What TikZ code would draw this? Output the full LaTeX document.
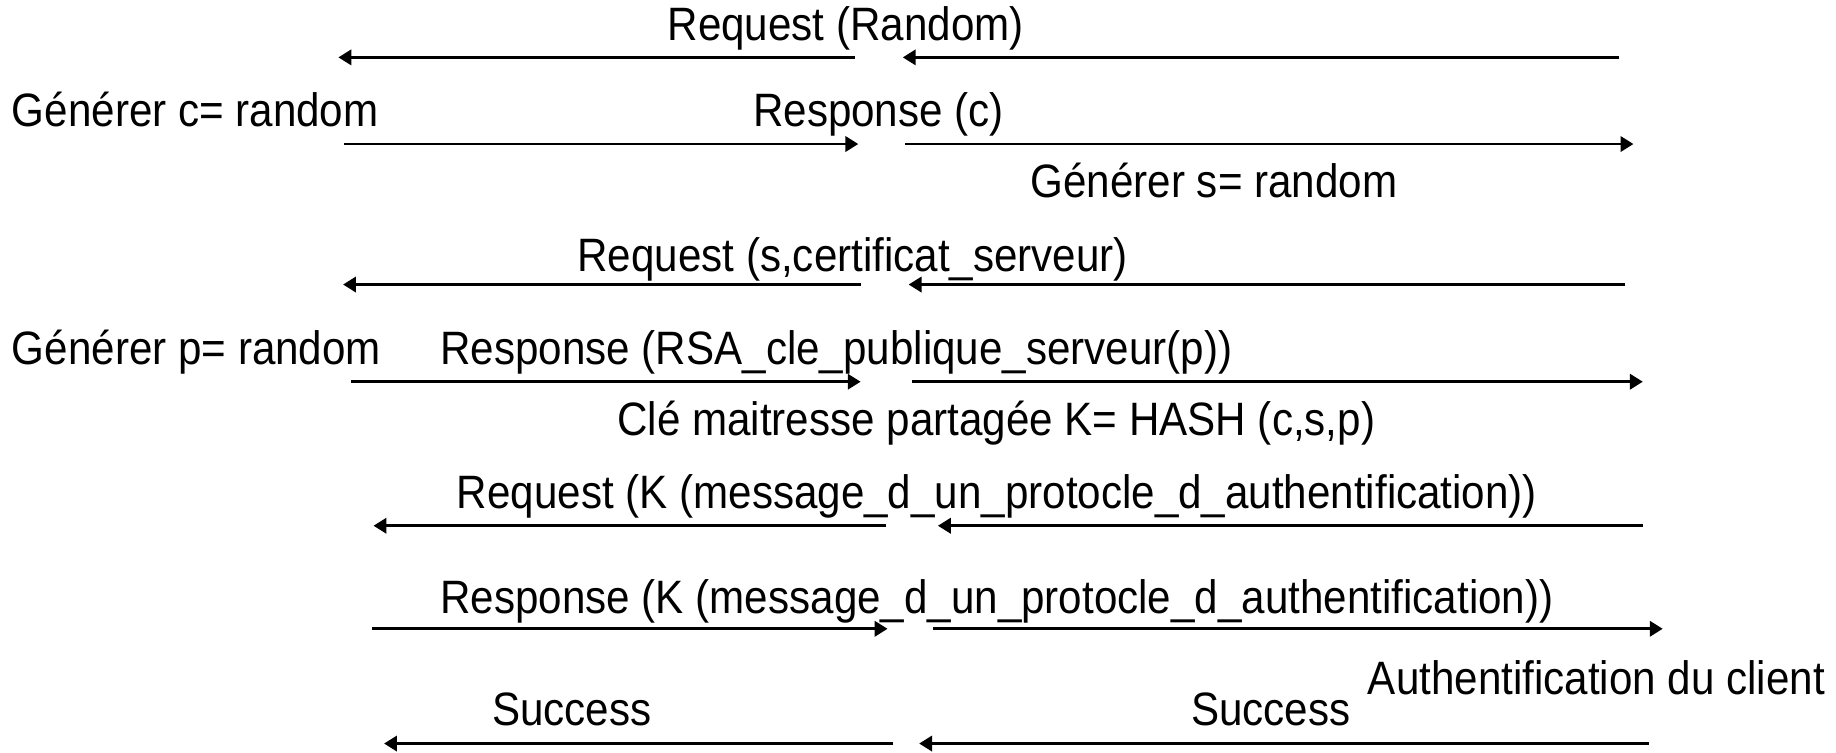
\documentclass[tikz,border=0pt]{standalone}
\usepackage{fontspec}
\setmainfont[FakeStretch=0.9]{Liberation Sans}
\usetikzlibrary{arrows.meta}
\begin{document}
\begin{tikzpicture}[x=1pt,y=-1pt,
  lbl/.style={inner sep=0pt,anchor=base west,font=\fontsize{40}{44}\selectfont},
  msg/.style={line width=2.4pt,-{Triangle[length=11pt,width=13pt]}}]
\useasboundingbox (0,0) rectangle (1568,643);
% labels
\node[lbl] (t1)  at (570,35)  {Request (Random)};
\node[lbl] (t2a) at (10,108)  {Générer c= random};
\node[lbl] (t2b) at (643,108) {Response (c)};
\node[lbl] (t3)  at (880,169) {Générer s= random};
\node[lbl] (t4)  at (493,232) {Request (s,certificat\_serveur)};
\node[lbl] (t5a) at (10,311)  {Générer p= random};
\node[lbl] (t5b) at (376,311) {Response (RSA\_cle\_publique\_serveur(p))};
\node[lbl] (t6)  at (527,372) {Clé maitresse partagée K= HASH (c,s,p)};
\node[lbl] (t7)  at (390,434) {Request (K (message\_d\_un\_protocle\_d\_authentification))};
\node[lbl] (t8)  at (376,524) {Response (K (message\_d\_un\_protocle\_d\_authentification))};
\node[lbl] (t9)  at (1168,593) {Authentification du client};
\node[lbl] (t10a) at (420,620) {Success};
\node[lbl] (t10b) at (1017,620) {Success};
% arrow end points
\coordinate (a1l0) at (730,49);  \coordinate (a1l1) at (289,49);
\coordinate (a1r0) at (1383,49); \coordinate (a1r1) at (771,49);
\coordinate (a2l0) at (294,123); \coordinate (a2l1) at (733,123);
\coordinate (a2r0) at (773,123); \coordinate (a2r1) at (1395,123);
\coordinate (a4l0) at (735,243); \coordinate (a4l1) at (293,243);
\coordinate (a4r0) at (1388,243);\coordinate (a4r1) at (776,243);
\coordinate (a5l0) at (300,326); \coordinate (a5l1) at (735,326);
\coordinate (a5r0) at (779,326); \coordinate (a5r1) at (1403,326);
\coordinate (a7l0) at (757,449); \coordinate (a7l1) at (319,449);
\coordinate (a7r0) at (1403,449);\coordinate (a7r1) at (801,449);
\coordinate (a8l0) at (318,537); \coordinate (a8l1) at (758,537);
\coordinate (a8r0) at (797,537); \coordinate (a8r1) at (1420,537);
\coordinate (a10l0) at (763,635); \coordinate (a10l1) at (328,635);
\coordinate (a10r0) at (1408,635);\coordinate (a10r1) at (785,635);
% messages
\foreach \r in {1,2,4,5,7,8,10}{
  \draw[msg] (a\r l0) -- (a\r l1);
  \draw[msg] (a\r r0) -- (a\r r1);
}
\end{tikzpicture}
\end{document}
